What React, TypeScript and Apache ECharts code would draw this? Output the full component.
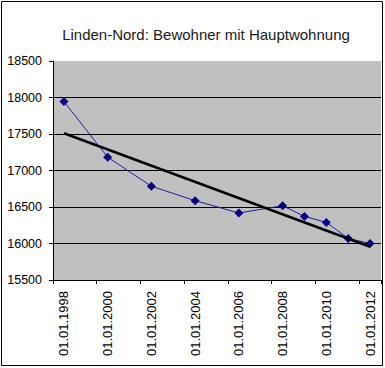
import React, { useEffect, useRef } from "react";
import * as echarts from "echarts";

const years = ["1998", "1999", "2000", "2001", "2002", "2003", "2004", "2005", "2006", "2007", "2008", "2009", "2010", "2011", "2012"];
const categories = years.map((y) => "01.01." + y);
const residents: (number | null)[] = [17945, null, 17183, null, 16784, null, 16587, null, 16418, null, 16518, 16371, 16289, 16069, 16000];
const trend: (number | null)[] = [17510, null, null, null, null, null, null, null, null, null, null, null, null, null, 15955];
const title = "Linden-Nord: Bewohner mit Hauptwohnung";

export default function App() {
  const ref = useRef<HTMLDivElement>(null);
  useEffect(() => {
    if (!ref.current) return;
    const chart = echarts.init(ref.current, undefined, { renderer: "svg" });
    chart.setOption({
      animation: false,
      backgroundColor: "#ffffff",
      textStyle: { fontFamily: "Liberation Sans, Arial, sans-serif" },
      title: {
        text: title,
        left: 201,
        top: 22,
        textAlign: "center",
        textStyle: { fontSize: 15, fontWeight: "normal", color: "#1a1a1a", fontFamily: "Liberation Sans, Arial, sans-serif" },
      },
      graphic: [
        {
          type: "rect",
          shape: { x: 1.5, y: 1.5, width: 381, height: 364 },
          style: { fill: "none", stroke: "#000", lineWidth: 1 },
          z: 100,
        },
      ],
      grid: {
        left: 53,
        right: 4,
        top: 61,
        bottom: 88,
        show: true,
        backgroundColor: "#c0c0c0",
        borderWidth: 0,
      },
      xAxis: {
        type: "category",
        data: categories,
        boundaryGap: true,
        axisLine: { lineStyle: { color: "#000", width: 1 } },
        axisTick: { show: true, interval: 1, length: 4, lineStyle: { color: "#000" } },
        axisLabel: {
          interval: 1,
          rotate: 90,
          margin: 11,
          fontSize: 13,
          color: "#000",
          fontFamily: "Liberation Sans, Arial, sans-serif",
        },
        splitLine: { show: false },
      },
      yAxis: {
        type: "value",
        min: 15500,
        max: 18500,
        interval: 500,
        axisLine: { show: true, lineStyle: { color: "#000", width: 1 } },
        axisTick: { show: true, length: 4, lineStyle: { color: "#000" } },
        axisLabel: {
          margin: 11,
          fontSize: 12.5,
          color: "#000",
          fontFamily: "Liberation Sans, Arial, sans-serif",
          formatter: (v: number) => String(v),
        },
        splitLine: { show: true, showMaxLine: false, lineStyle: { color: "#000", width: 1 } },
      },
      series: [
        {
          type: "line",
          data: residents,
          connectNulls: true,
          symbol: "diamond",
          symbolSize: 9,
          lineStyle: { color: "#1f1f9a", width: 1 },
          itemStyle: { color: "#000080" },
          z: 3,
        },
        {
          type: "line",
          data: trend,
          connectNulls: true,
          symbol: "none",
          lineStyle: { color: "#000", width: 2.5 },
          z: 4,
        },
      ],
    });
    return () => chart.dispose();
  }, []);
  return <div ref={ref} style={{ position: "absolute", left: 0, top: 0, width: 385, height: 368 }} />;
}
